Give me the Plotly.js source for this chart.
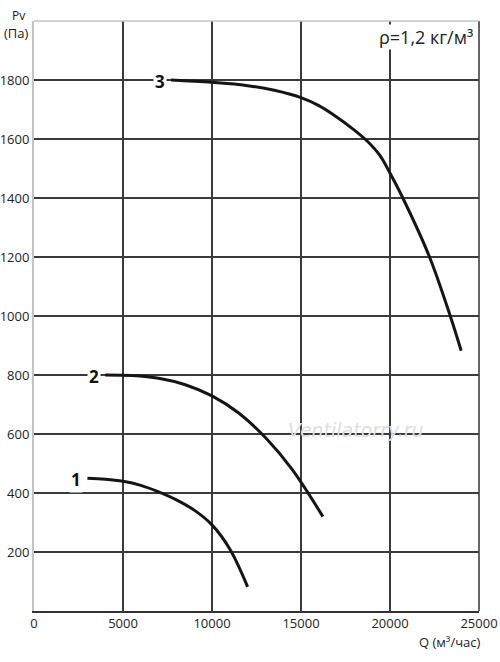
<!DOCTYPE html>
<html>
<head>
<meta charset="utf-8">
<script src="https://cdn.plot.ly/plotly-3.0.1.min.js"></script>
<style>html,body{margin:0;padding:0;background:#fff;}#chart{width:500px;height:662px;}</style>
</head>
<body>
<div id="chart"></div>
<script>
// Fan curves: Q (m3/h) vs Pv (Pa)
const curve1Q = [3000, 4000, 5000, 6000, 7000, 8000, 9000, 10000, 11000, 12000];
const curve1P = [450, 447, 440, 426, 404, 377, 342, 292, 210, 82];

const curve2Q = [4000, 5500, 7000, 8500, 10000, 11500, 13000, 14500, 16230];
const curve2P = [800, 798, 789, 767, 729, 671, 588, 480, 320];

const curve3Q = [7700, 10000, 12100, 13500, 15000, 16000, 16800, 18000, 18700, 19450, 20000, 20720, 22220, 23385, 24000];
const curve3P = [1800, 1792, 1780, 1765, 1740, 1713, 1683, 1630, 1594, 1543, 1484, 1400, 1200, 1000, 882];

const curveLabels = ['1', '2', '3'];
const xTicks = [0, 5000, 10000, 15000, 20000, 25000];
const yTicks = [200, 400, 600, 800, 1000, 1200, 1400, 1600, 1800];

const lineStyle = {color: '#151515', width: 3, shape: 'spline', smoothing: 1};
const traces = [
  {x: curve1Q, y: curve1P, mode: 'lines', line: lineStyle, hoverinfo: 'skip'},
  {x: curve2Q, y: curve2P, mode: 'lines', line: lineStyle, hoverinfo: 'skip'},
  {x: curve3Q, y: curve3P, mode: 'lines', line: lineStyle, hoverinfo: 'skip'}
];

const starts = [[curve1Q[0], curve1P[0]], [curve2Q[0], curve2P[0]], [curve3Q[0], curve3P[0]]];
const labelAnn = curveLabels.map((t, i) => ({
  x: starts[i][0], y: starts[i][1], xref: 'x', yref: 'y',
  text: '<b>' + t + '</b>', showarrow: false, xanchor: 'right', yanchor: 'middle',
  xshift: -4, yshift: -1,
  font: {family: 'Open Sans, sans-serif', size: 17, color: '#111'},
  bgcolor: '#ffffff', borderpad: 1
}));

const layout = {
  width: 500, height: 662,
  margin: {l: 34, r: 21, t: 21, b: 51, pad: 0},
  paper_bgcolor: '#fff', plot_bgcolor: '#fff',
  showlegend: false,
  font: {family: 'Open Sans, sans-serif', size: 13, color: '#222'},
  xaxis: {
    range: [0, 25000], tickmode: 'array', tickvals: xTicks, ticktext: xTicks.map(String),
    showgrid: true, gridcolor: '#3a3a3a', gridwidth: 1.5,
    zeroline: false, showline: true, linecolor: '#333', linewidth: 1.5,
    ticks: '', ticklen: 0, fixedrange: true,
    tickfont: {size: 13, color: '#222'}
  },
  yaxis: {
    range: [0, 2000], tickmode: 'array', tickvals: yTicks, ticktext: yTicks.map(String),
    showgrid: true, gridcolor: '#3a3a3a', gridwidth: 1.5,
    zeroline: false, showline: true, linecolor: '#c4c4c4', linewidth: 2,
    ticks: '', ticklen: 0, fixedrange: true,
    tickfont: {size: 13, color: '#222'}
  },
  shapes: [
    {type: 'line', xref: 'paper', yref: 'paper', x0: 0, x1: 1, y0: 1, y1: 1,
     line: {color: '#c4c4c4', width: 1.5}, layer: 'above'},
    {type: 'line', xref: 'paper', yref: 'paper', x0: 1, x1: 1, y0: 0, y1: 1,
     line: {color: '#333', width: 1.5}, layer: 'below'}
  ],
  annotations: [
    {x: 0.5, y: 1, xref: 'paper', yref: 'paper', text: 'Ventilatorry.ru', showarrow: false,
     xanchor: 'center', yanchor: 'middle', xshift: 355 - 256, yshift: -(430 - 21),
     font: {family: 'DejaVu Sans, sans-serif', size: 19, color: '#dedede', style: 'italic'}},
    ...labelAnn,
    {x: 0, y: 1, xref: 'paper', yref: 'paper', text: 'Pv', showarrow: false,
     xanchor: 'right', yanchor: 'middle', xshift: -7, yshift: 6,
     font: {size: 12, color: '#222'}},
    {x: 0, y: 1, xref: 'paper', yref: 'paper', text: '(Па)', showarrow: false,
     xanchor: 'right', yanchor: 'middle', xshift: -3, yshift: -12,
     font: {size: 13, color: '#222'}},
    {x: 1, y: 1, xref: 'paper', yref: 'paper', text: 'ρ=1,2 кг/м³', showarrow: false,
     xanchor: 'right', yanchor: 'middle', xshift: -5, yshift: -16,
     font: {size: 18, color: '#222'}, bgcolor: '#ffffff', borderpad: 0},
    {x: 1, y: 0, xref: 'paper', yref: 'paper', text: 'Q (м³/час)', showarrow: false,
     xanchor: 'right', yanchor: 'middle', xshift: 3, yshift: -31,
     font: {size: 13, color: '#222'}}
  ]
};

Plotly.newPlot('chart', traces, layout, {displayModeBar: false, staticPlot: true});
</script>
</body>
</html>
